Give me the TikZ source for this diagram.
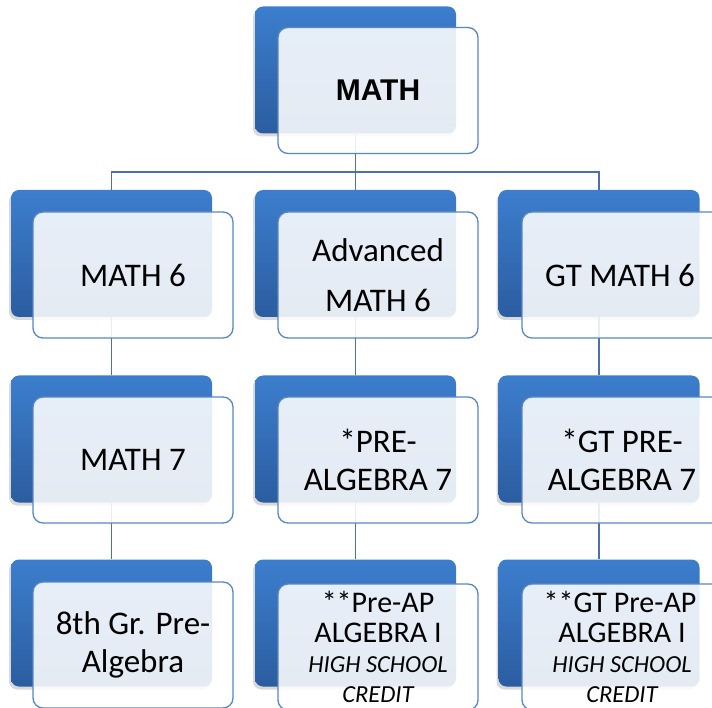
\documentclass[tikz,border=0pt]{standalone}
\usepackage{fontspec}
\setmainfont{Carlito}
\newfontfamily\boldarial{Liberation Sans}
\usetikzlibrary{shadows}
\definecolor{backtop}{RGB}{60,126,205}
\definecolor{backbot}{RGB}{43,93,160}
\definecolor{frontline}{RGB}{88,134,195}
\definecolor{connline}{RGB}{74,114,170}
\tikzset{
  backbox/.style={rectangle, rounded corners=8pt, minimum width=201pt, minimum height=127pt,
    top color=backtop, bottom color=backbot, draw=none,
    drop shadow={shadow xshift=-2pt, shadow yshift=-3pt, opacity=0.3}},
  frontbox/.style={rectangle, rounded corners=10pt, minimum width=200pt, minimum height=126pt,
    draw=frontline, line width=1.3pt, fill=white, fill opacity=0.88, text opacity=1,
    align=center, text=black, inner sep=0pt},
  conn/.style={draw=connline, line width=1.4pt},
  bigtxt/.style={font=\fontsize{33}{38}\selectfont},
  smalltxt/.style={font=\fontsize{30}{30}\selectfont}
}
\newcommand{\creditlines}{\fontsize{24.5}{27.5}\selectfont\itshape}
\begin{document}
\begin{tikzpicture}[x=1pt,y=-1pt]
\useasboundingbox (0,0) rectangle (712,708);
\coordinate (bus) at (355.5,172);
% back boxes
\node[backbox] (b0)  at (355.5,70) {};
\node[backbox] (b2l) at (111.5,253.5) {};
\node[backbox] (b2m) at (355.5,253.5) {};
\node[backbox] (b2r) at (599,253.5) {};
\node[backbox] (b3l) at (111.5,439) {};
\node[backbox] (b3m) at (355.5,439) {};
\node[backbox] (b3r) at (599,439) {};
\node[backbox] (b4l) at (111.5,623) {};
\node[backbox] (b4m) at (355.5,623) {};
\node[backbox] (b4r) at (599,623) {};
% connectors
\draw[conn] (b0.south) -- (bus);
\draw[conn] (bus) -| (b2l.north);
\draw[conn] (bus) -| (b2r.north);
\draw[conn] (bus) -- (b2m.north);
\draw[conn] (b2l.south) -- (b3l.north);
\draw[conn] (b2m.south) -- (b3m.north);
\draw[conn] (b2r.south) -- (b3r.north);
\draw[conn] (b3l.south) -- (b4l.north);
\draw[conn] (b3m.south) -- (b4m.north);
\draw[conn] (b3r.south) -- (b4r.north);
% front boxes
\node[frontbox, font=\boldarial\bfseries\fontsize{30}{34}\selectfont] (f0) at (378,90.5) {MATH};
\node[frontbox, bigtxt] (f2l) at (133,275) {MATH 6};
\node[frontbox, font=\fontsize{33}{50}\selectfont] (f2m) at (378,275) {Advanced\\MATH 6};
\node[frontbox, bigtxt] (f2r) at (622,275) {\hspace*{-4pt}GT MATH 6};
\node[frontbox, bigtxt] (f3l) at (133,460) {MATH 7};
\node[frontbox, bigtxt] (f3m) at (378,460) {*PRE-\\ALGEBRA 7};
\node[frontbox, bigtxt] (f3r) at (622,460) {*GT PRE-\\ALGEBRA 7};
\node[frontbox, bigtxt] (f4l) at (133,645) {8th Gr. Pre-\\Algebra};
\node[frontbox, smalltxt] (f4m) at (378,647) {**Pre-AP\\ALGEBRA I\\{\creditlines HIGH SCHOOL}\\{\creditlines CREDIT}};
\node[frontbox, smalltxt] (f4r) at (622,647) {\hspace*{-4pt}**GT Pre-AP\\ALGEBRA I\\{\creditlines HIGH SCHOOL}\\{\creditlines CREDIT}};
\end{tikzpicture}
\end{document}
